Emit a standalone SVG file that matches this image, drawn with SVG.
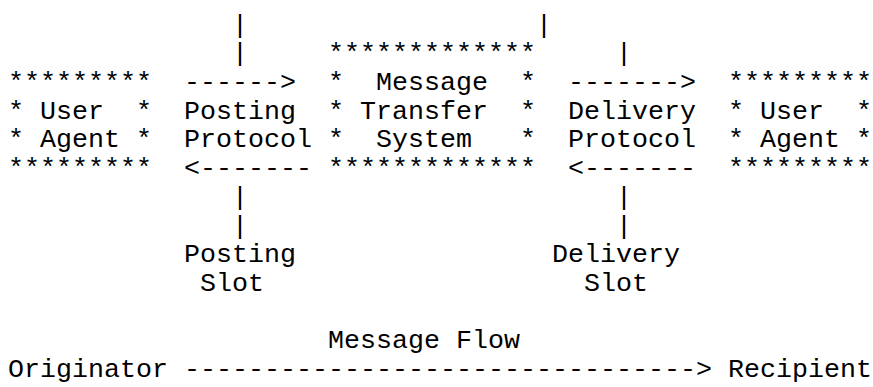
<svg xmlns="http://www.w3.org/2000/svg" width="873" height="387" viewBox="0 0 873 387">
<style>
text { font-family: "Liberation Mono", "DejaVu Sans Mono", monospace; font-size: 26.667px; fill: #000; white-space: pre; }
</style>
<rect x="0" y="0" width="873" height="387" fill="#fff"/>
<g id="ua-originator">
<text x="8" y="90" xml:space="preserve">*********</text>
<text x="8" y="118.7" xml:space="preserve">* User  *</text>
<text x="8" y="147.4" xml:space="preserve">* Agent *</text>
<text x="8" y="176.1" xml:space="preserve">*********</text>
</g>
<g id="mts">
<text x="328" y="61.3" xml:space="preserve">*************</text>
<text x="328" y="90" xml:space="preserve">*  Message  *</text>
<text x="328" y="118.7" xml:space="preserve">* Transfer  *</text>
<text x="328" y="147.4" xml:space="preserve">*  System   *</text>
<text x="328" y="176.1" xml:space="preserve">*************</text>
</g>
<g id="ua-recipient">
<text x="728" y="90" xml:space="preserve">*********</text>
<text x="728" y="118.7" xml:space="preserve">* User  *</text>
<text x="728" y="147.4" xml:space="preserve">* Agent *</text>
<text x="728" y="176.1" xml:space="preserve">*********</text>
</g>
<g id="connectors">
<text x="184" y="90">------&gt;</text>
<text x="568" y="90">-------&gt;</text>
<text x="184" y="176.1">&lt;-------</text>
<text x="568" y="176.1">&lt;-------</text>
<text x="232" y="32.6">|</text>
<text x="232" y="61.3">|</text>
<text x="232" y="204.8">|</text>
<text x="232" y="233.5">|</text>
<text x="536" y="32.6">|</text>
<text x="616" y="61.3">|</text>
<text x="616" y="204.8">|</text>
<text x="616" y="233.5">|</text>
<text x="184" y="377">--------------------------------&gt;</text>
</g>
<g id="labels">
<text x="184" y="118.7">Posting</text>
<text x="184" y="147.4">Protocol</text>
<text x="568" y="118.7">Delivery</text>
<text x="568" y="147.4">Protocol</text>
<text x="184" y="262.2">Posting</text>
<text x="200" y="290.9">Slot</text>
<text x="552" y="262.2">Delivery</text>
<text x="584" y="290.9">Slot</text>
<text x="328" y="348.3">Message Flow</text>
<text x="8" y="377">Originator</text>
<text x="728" y="377">Recipient</text>
</g>
</svg>
